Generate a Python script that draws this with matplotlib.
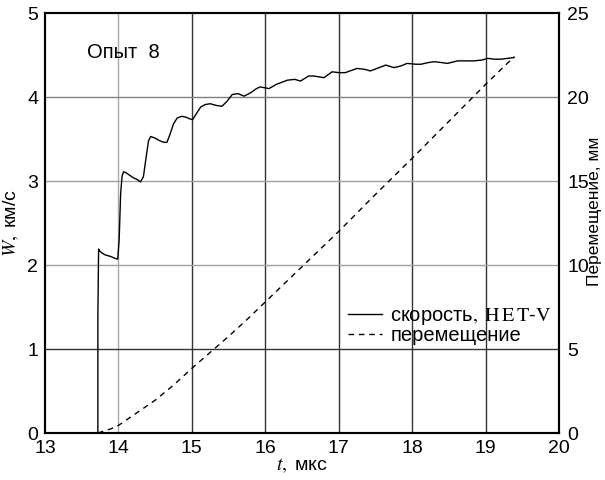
import matplotlib.pyplot as plt

plt.rcParams['font.family'] = ['Liberation Sans', 'DejaVu Sans']
plt.rcParams['mathtext.fontset'] = 'stix'

# velocity, HET-V (t in mks, W in km/s)
t_vel = [13.72, 13.72, 13.73, 13.74, 13.78, 13.82, 13.86, 13.90, 13.95, 13.99,
         14.01, 14.03, 14.05, 14.07, 14.10, 14.15, 14.20, 14.25, 14.30, 14.34,
         14.38, 14.41, 14.44, 14.50, 14.56, 14.62, 14.66, 14.70, 14.75, 14.80,
         14.86, 14.92, 14.97, 15.01, 15.06, 15.12, 15.18, 15.25, 15.33, 15.41,
         15.48, 15.55, 15.63, 15.71, 15.80, 15.88, 15.93, 16.05, 16.15, 16.30,
         16.40, 16.48, 16.59, 16.66, 16.80, 16.91, 17.00, 17.09, 17.25, 17.35,
         17.43, 17.55, 17.64, 17.75, 17.85, 17.93, 18.05, 18.12, 18.22, 18.30,
         18.40, 18.48, 18.62, 18.75, 18.84, 18.95, 19.03, 19.12, 19.21, 19.30,
         19.39]
w_vel = [0.00, 1.40, 2.19, 2.17, 2.14, 2.12, 2.11, 2.10, 2.08, 2.07,
         2.30, 2.85, 3.06, 3.11, 3.10, 3.07, 3.04, 3.02, 2.99, 3.05,
         3.30, 3.48, 3.53, 3.51, 3.48, 3.46, 3.46, 3.55, 3.68, 3.75,
         3.77, 3.76, 3.74, 3.73, 3.80, 3.88, 3.91, 3.92, 3.90, 3.89,
         3.95, 4.03, 4.04, 4.01, 4.05, 4.10, 4.12, 4.10, 4.15, 4.20,
         4.21, 4.19, 4.25, 4.25, 4.23, 4.30, 4.29, 4.29, 4.34, 4.33,
         4.31, 4.35, 4.38, 4.35, 4.37, 4.40, 4.39, 4.39, 4.41, 4.42,
         4.41, 4.40, 4.43, 4.43, 4.43, 4.44, 4.46, 4.45, 4.45, 4.46,
         4.47]

# displacement (mm)
t_disp = [13.72, 13.90, 14.00, 14.25, 14.50, 14.75, 15.00, 15.25, 15.50,
          15.75, 16.00, 16.50, 17.00, 17.50, 18.00, 18.50, 19.00, 19.39]
s_disp = [0.0, 0.25, 0.45, 1.2, 1.95, 2.85, 3.85, 4.8, 5.75,
          6.75, 7.8, 9.9, 12.0, 14.2, 16.35, 18.55, 20.75, 22.4]

fig = plt.figure(figsize=(6.05, 4.8), dpi=100)
ax = fig.add_axes([45 / 605, 47 / 480, 514 / 605, 420 / 480])
ax2 = ax.twinx()

# grid
for x in range(14, 20):
    ax.axvline(x, color='#a8a8a8' if x == 14 else '#333333', lw=1.0, zorder=0)
for y, c in [(1, '#333333'), (2, '#a0a0a0'), (3, '#a0a0a0'), (4, '#808080')]:
    ax.axhline(y, color=c, lw=1.0, zorder=0)

l1, = ax.plot(t_vel, w_vel, color='black', lw=1.0)
l2, = ax2.plot(t_disp, s_disp, color='black', lw=1.0, linestyle=(0, (4, 3.5)))

ax.set_xlim(13, 20)
ax.set_ylim(0, 5)
ax2.set_ylim(0, 25)
ax.set_xticks(range(13, 21))
ax.set_yticks(range(0, 6))
ax2.set_yticks(range(0, 26, 5))

for a in (ax, ax2):
    for s in a.spines.values():
        s.set_linewidth(1.5)
ax.tick_params(labelsize=14, length=0, pad=5)
ax2.tick_params(labelsize=14, length=0, pad=6)

ax.set_xlabel(r'$t,$ мкс', fontsize=14, labelpad=0)
ax.set_ylabel(r'$W,$ км/с', fontsize=14, labelpad=4)
fig.text(0.983, 0.56, 'Перемещение, мм', fontsize=12.5, rotation=90,
         ha='center', va='center')

ax.text(13.57, 4.47, 'Опыт  8', fontsize=14.5)

ax.legend([l1, l2], [r'скорость$,\ \mathrm{H\,E\,T}$-$\mathrm{V}$', 'перемещение'],
          loc='lower right', bbox_to_anchor=(1.01, 0.18), frameon=False,
          fontsize=14.5, handlelength=1.7, handletextpad=0.4,
          labelspacing=-0.05, borderaxespad=0.2)

plt.savefig('out.png', dpi=100)
